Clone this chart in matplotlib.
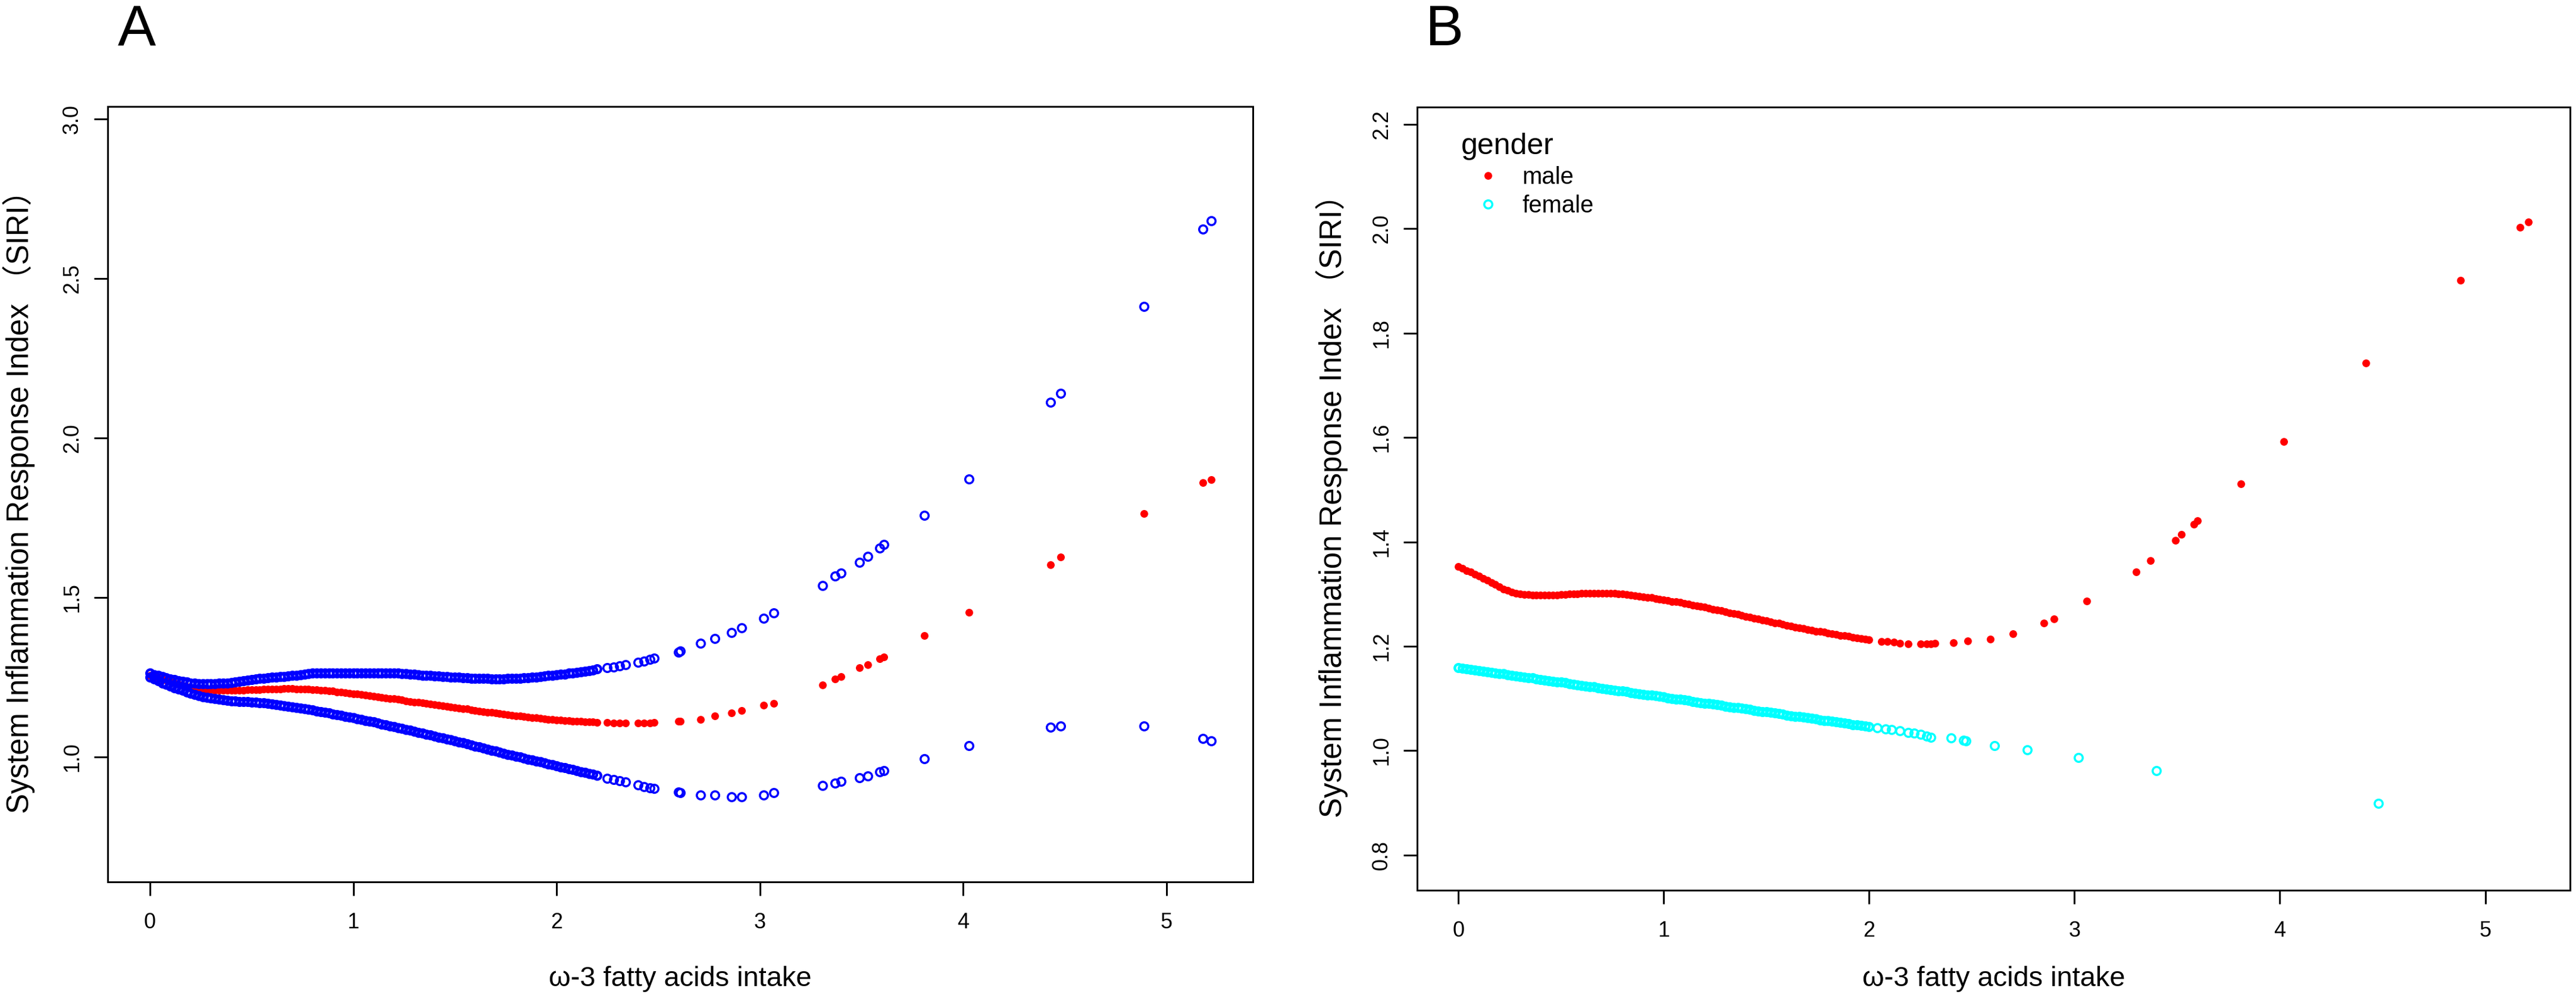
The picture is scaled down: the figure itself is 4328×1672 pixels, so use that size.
import matplotlib
matplotlib.use("Agg")
import matplotlib.pyplot as plt

###
# Data
###

# densely sampled intake values, shared by both panels
x_dense = [0.00, 0.02, 0.04, 0.06, 0.08, 0.10, 0.12, 0.14, 0.16, 0.18, 0.20,
           0.22, 0.24, 0.26, 0.28, 0.30, 0.32, 0.34, 0.36, 0.38, 0.40,
           0.42, 0.44, 0.46, 0.48, 0.50, 0.52, 0.54, 0.56, 0.58, 0.60,
           0.62, 0.64, 0.66, 0.68, 0.70, 0.72, 0.74, 0.76, 0.78, 0.80,
           0.82, 0.84, 0.86, 0.88, 0.90, 0.92, 0.94, 0.96, 0.98, 1.00,
           1.02, 1.04, 1.06, 1.08, 1.10, 1.12, 1.14, 1.16, 1.18, 1.20,
           1.22, 1.24, 1.26, 1.28, 1.30, 1.32, 1.34, 1.36, 1.38, 1.40,
           1.42, 1.44, 1.46, 1.48, 1.50, 1.52, 1.54, 1.56, 1.58, 1.60,
           1.62, 1.64, 1.66, 1.68, 1.70, 1.72, 1.74, 1.76, 1.78, 1.80,
           1.82, 1.84, 1.86, 1.88, 1.90, 1.92, 1.94, 1.96, 1.98, 2.00,
           2.02, 2.04, 2.06, 2.08, 2.10, 2.12, 2.14, 2.16, 2.18, 2.20]

# Panel A: fit (red) with upper / lower bounds (blue)
upper_dense = [1.262, 1.258, 1.255, 1.251, 1.248, 1.245, 1.242, 1.239, 1.236, 1.234, 1.232,
               1.231, 1.230, 1.230, 1.230, 1.230, 1.230, 1.231, 1.231, 1.232, 1.233,
               1.234, 1.236, 1.238, 1.240, 1.242, 1.244, 1.246, 1.247, 1.248, 1.249,
               1.250, 1.251, 1.252, 1.253, 1.255, 1.256, 1.258, 1.259, 1.261, 1.262,
               1.262, 1.263, 1.263, 1.263, 1.263, 1.263, 1.263, 1.263, 1.263, 1.263,
               1.263, 1.263, 1.263, 1.263, 1.263, 1.263, 1.263, 1.263, 1.262, 1.262,
               1.262, 1.261, 1.261, 1.260, 1.259, 1.257, 1.256, 1.255, 1.255, 1.254,
               1.253, 1.252, 1.251, 1.250, 1.250, 1.249, 1.248, 1.248, 1.247, 1.247,
               1.246, 1.246, 1.246, 1.245, 1.245, 1.245, 1.245, 1.246, 1.246, 1.246,
               1.247, 1.248, 1.248, 1.249, 1.250, 1.252, 1.254, 1.255, 1.256, 1.258,
               1.259, 1.260, 1.262, 1.263, 1.265, 1.266, 1.268, 1.270, 1.272, 1.275]
fit_dense = [1.256, 1.252, 1.248, 1.244, 1.240, 1.236, 1.232, 1.228, 1.224, 1.220, 1.217,
             1.214, 1.212, 1.211, 1.210, 1.210, 1.209, 1.209, 1.209, 1.209, 1.209,
             1.209, 1.209, 1.209, 1.210, 1.210, 1.211, 1.211, 1.212, 1.212, 1.213,
             1.213, 1.213, 1.214, 1.214, 1.214, 1.213, 1.213, 1.212, 1.212, 1.211,
             1.210, 1.209, 1.208, 1.207, 1.206, 1.204, 1.203, 1.201, 1.200, 1.198,
             1.197, 1.195, 1.194, 1.192, 1.190, 1.188, 1.187, 1.185, 1.183, 1.182,
             1.180, 1.178, 1.176, 1.174, 1.172, 1.171, 1.169, 1.167, 1.165, 1.164,
             1.162, 1.160, 1.158, 1.157, 1.155, 1.153, 1.151, 1.150, 1.148, 1.146,
             1.144, 1.142, 1.140, 1.139, 1.137, 1.136, 1.134, 1.133, 1.131, 1.129,
             1.128, 1.126, 1.125, 1.123, 1.122, 1.121, 1.119, 1.118, 1.117, 1.116,
             1.115, 1.114, 1.113, 1.112, 1.111, 1.111, 1.110, 1.109, 1.109, 1.108]
lower_dense = [1.250, 1.244, 1.238, 1.232, 1.227, 1.222, 1.217, 1.212, 1.208, 1.204, 1.200,
               1.196, 1.192, 1.189, 1.186, 1.184, 1.182, 1.180, 1.179, 1.177, 1.176,
               1.175, 1.174, 1.174, 1.173, 1.172, 1.171, 1.170, 1.169, 1.168, 1.166,
               1.164, 1.163, 1.161, 1.159, 1.157, 1.155, 1.153, 1.151, 1.149, 1.147,
               1.144, 1.142, 1.140, 1.137, 1.135, 1.132, 1.130, 1.127, 1.125, 1.122,
               1.119, 1.117, 1.114, 1.111, 1.109, 1.106, 1.103, 1.100, 1.097, 1.095,
               1.092, 1.089, 1.086, 1.083, 1.080, 1.077, 1.074, 1.071, 1.068, 1.065,
               1.062, 1.059, 1.056, 1.053, 1.050, 1.047, 1.044, 1.040, 1.037, 1.034,
               1.031, 1.027, 1.024, 1.021, 1.018, 1.015, 1.011, 1.008, 1.005, 1.002,
               0.999, 0.996, 0.993, 0.990, 0.987, 0.984, 0.981, 0.978, 0.975, 0.972,
               0.969, 0.966, 0.963, 0.960, 0.957, 0.954, 0.951, 0.948, 0.945, 0.942]

x_sparse_a = [2.25, 2.28, 2.31, 2.34, 2.40, 2.43, 2.46, 2.48, 2.60, 2.61,
              2.71, 2.78, 2.86, 2.91, 3.02, 3.07, 3.31, 3.37, 3.40, 3.49,
              3.53, 3.59, 3.61, 3.81, 4.03, 4.43, 4.48, 4.89, 5.18, 5.22]
upper_sparse = [1.279, 1.282, 1.286, 1.289, 1.297, 1.301, 1.305, 1.310, 1.329, 1.331,
                1.356, 1.372, 1.389, 1.404, 1.434, 1.451, 1.538, 1.567, 1.577, 1.610,
                1.628, 1.655, 1.665, 1.758, 1.871, 2.111, 2.139, 2.412, 2.654, 2.681]
fit_sparse = [1.108, 1.107, 1.107, 1.107, 1.107, 1.107, 1.107, 1.108, 1.111, 1.112,
              1.117, 1.129, 1.138, 1.145, 1.162, 1.168, 1.226, 1.244, 1.251, 1.279,
              1.289, 1.308, 1.313, 1.380, 1.454, 1.602, 1.626, 1.762, 1.859, 1.869]
lower_sparse = [0.932, 0.929, 0.926, 0.922, 0.912, 0.907, 0.902, 0.900, 0.889, 0.888,
                0.881, 0.881, 0.875, 0.875, 0.881, 0.887, 0.910, 0.917, 0.923, 0.935,
                0.941, 0.953, 0.957, 0.994, 1.035, 1.093, 1.096, 1.097, 1.057, 1.050]

# Panel B: fit by gender
male_dense = [1.353, 1.349, 1.345, 1.342, 1.338, 1.334, 1.330, 1.326, 1.322, 1.318, 1.314,
              1.310, 1.307, 1.304, 1.302, 1.300, 1.299, 1.299, 1.298, 1.298, 1.298,
              1.298, 1.298, 1.298, 1.298, 1.299, 1.299, 1.300, 1.300, 1.300, 1.301,
              1.301, 1.301, 1.301, 1.301, 1.301, 1.301, 1.301, 1.301, 1.300, 1.300,
              1.299, 1.298, 1.297, 1.296, 1.295, 1.294, 1.293, 1.291, 1.290, 1.289,
              1.288, 1.286, 1.285, 1.284, 1.282, 1.281, 1.279, 1.278, 1.276, 1.275,
              1.273, 1.271, 1.269, 1.268, 1.266, 1.264, 1.263, 1.261, 1.259, 1.257,
              1.256, 1.254, 1.252, 1.250, 1.249, 1.247, 1.245, 1.244, 1.242, 1.240,
              1.239, 1.237, 1.235, 1.234, 1.232, 1.231, 1.229, 1.228, 1.227, 1.225,
              1.224, 1.223, 1.221, 1.220, 1.219, 1.217, 1.216, 1.215, 1.214, 1.213]
female_dense = [1.159, 1.158, 1.157, 1.156, 1.154, 1.153, 1.152, 1.151, 1.150, 1.149, 1.148,
                1.147, 1.145, 1.144, 1.143, 1.142, 1.141, 1.140, 1.139, 1.137, 1.136,
                1.135, 1.134, 1.133, 1.132, 1.131, 1.130, 1.128, 1.127, 1.126, 1.125,
                1.124, 1.123, 1.122, 1.120, 1.119, 1.118, 1.117, 1.116, 1.115, 1.114,
                1.113, 1.111, 1.110, 1.109, 1.108, 1.107, 1.106, 1.105, 1.104, 1.103,
                1.101, 1.100, 1.099, 1.098, 1.097, 1.096, 1.094, 1.093, 1.092, 1.091,
                1.090, 1.089, 1.088, 1.087, 1.085, 1.084, 1.083, 1.082, 1.081, 1.080,
                1.079, 1.077, 1.076, 1.075, 1.074, 1.073, 1.072, 1.071, 1.070, 1.068,
                1.067, 1.066, 1.065, 1.064, 1.063, 1.062, 1.061, 1.059, 1.058, 1.057,
                1.056, 1.055, 1.054, 1.053, 1.052, 1.050, 1.049, 1.048, 1.047, 1.046]

x_sparse_male = [2.06, 2.09, 2.12, 2.15, 2.19, 2.25, 2.28, 2.30, 2.32, 2.41,
                 2.48, 2.59, 2.70, 2.85, 2.90, 3.06, 3.30, 3.37, 3.49, 3.52,
                 3.58, 3.60, 3.81, 4.02, 4.42, 4.88, 5.17, 5.21]
male_sparse = [1.209, 1.209, 1.208, 1.206, 1.205, 1.205, 1.205, 1.204, 1.206, 1.207,
               1.210, 1.214, 1.224, 1.245, 1.252, 1.287, 1.343, 1.364, 1.403, 1.414,
               1.434, 1.441, 1.511, 1.592, 1.743, 1.901, 2.003, 2.013]
x_sparse_female = [2.04, 2.08, 2.11, 2.15, 2.19, 2.22, 2.25, 2.28, 2.30, 2.40,
                   2.46, 2.47, 2.61, 2.77, 3.02, 3.40, 4.48]
female_sparse = [1.044, 1.042, 1.040, 1.038, 1.035, 1.033, 1.031, 1.028, 1.026, 1.024,
                 1.020, 1.019, 1.009, 1.002, 0.987, 0.962, 0.899]

x_ticks = [0, 1, 2, 3, 4, 5]
y_ticks_a = [1.0, 1.5, 2.0, 2.5, 3.0]
y_ticks_b = [0.8, 1.0, 1.2, 1.4, 1.6, 1.8, 2.0, 2.2]

xlab = "ω-3 fatty acids intake"
ylab = "System Inflammation Response Index （SIRI）"

###
# Figure setup (dpi 72 -> 1 pt == 1 px)
###

plt.rcParams['font.family'] = ['Liberation Sans', 'Noto Sans CJK SC', 'DejaVu Sans']

W, H = 4328, 1672
fig = plt.figure(figsize=(W / 72, H / 72), dpi=72)

ax_a = fig.add_axes([181 / W, 1 - 1482 / H, (2105 - 181) / W, (1482 - 179) / H])
ax_b = fig.add_axes([2381 / W, 1 - 1496 / H, (4318 - 2381) / W, (1496 - 180) / H])

# the dense stretch overlaps into a solid band, so its rings get a heavier edge
dense_ring = dict(marker='o', linestyle='none', mfc='none', ms=12.5, mew=4.5)
sparse_ring = dict(marker='o', linestyle='none', mfc='none', ms=13.5, mew=3.5)
dot = dict(marker='o', linestyle='none', color='red', ms=13, mew=0)


def style_axes(ax, yticks):
    ax.set_xticks(x_ticks)
    ax.set_yticks(yticks)
    ax.set_yticklabels([f"{t:.1f}" for t in yticks])
    for spine in ax.spines.values():
        spine.set_linewidth(3)
    ax.tick_params(axis='both', direction='out', length=23, width=3, labelsize=36)
    ax.tick_params(axis='x', pad=28)
    ax.tick_params(axis='y', pad=19, labelrotation=90)
    for lab in ax.get_yticklabels():
        lab.set_va('center')


###
# Panel A
###

ax_a.plot(x_dense + x_sparse_a, fit_dense + fit_sparse, **dot)
for dense, sparse in [(upper_dense, upper_sparse), (lower_dense, lower_sparse)]:
    ax_a.plot(x_dense, dense, mec='blue', **dense_ring)
    ax_a.plot(x_sparse_a, sparse, mec='blue', **sparse_ring)

ax_a.set_xlim(-0.208, 5.426)
ax_a.set_ylim(0.608, 3.039)
style_axes(ax_a, y_ticks_a)

###
# Panel B
###

n_b = len(male_dense)
male_h, = ax_b.plot(x_dense[:n_b] + x_sparse_male, male_dense + male_sparse, **dot)
ax_b.plot(x_dense[:n_b], female_dense, mec='cyan', **dense_ring)
female_h, = ax_b.plot(x_sparse_female, female_sparse, mec='cyan', **sparse_ring)

ax_b.set_xlim(-0.201, 5.413)
ax_b.set_ylim(0.7325, 2.233)
style_axes(ax_b, y_ticks_b)

ax_b.legend([male_h, female_h], ['male', 'female'], title='gender',
            loc='upper left', bbox_to_anchor=(2455 / W, 1 - 223 / H),
            bbox_transform=fig.transFigure, frameon=False, borderpad=0,
            borderaxespad=0, fontsize=40, title_fontsize=50, alignment='left',
            handlelength=2.25, handletextpad=0.3, labelspacing=0.25, numpoints=1)

###
# Labels
###

for cx, cy, ylx in [((181 + 2105) / 2, (179 + 1482) / 2, 32), ((2381 + 4318) / 2, (180 + 1496) / 2, 2238)]:
    fig.text(cx / W, 1 - 1657 / H, xlab, fontsize=47, ha='center', va='baseline')
    fig.text(ylx / W, 1 - cy / H, ylab, fontsize=51, rotation=90, ha='center', va='center')

fig.text(198 / W, 1 - 76 / H, "A", fontsize=96, ha='left', va='baseline')
fig.text(2394 / W, 1 - 76 / H, "B", fontsize=96, ha='left', va='baseline')

fig.savefig("out.png", dpi=72)
